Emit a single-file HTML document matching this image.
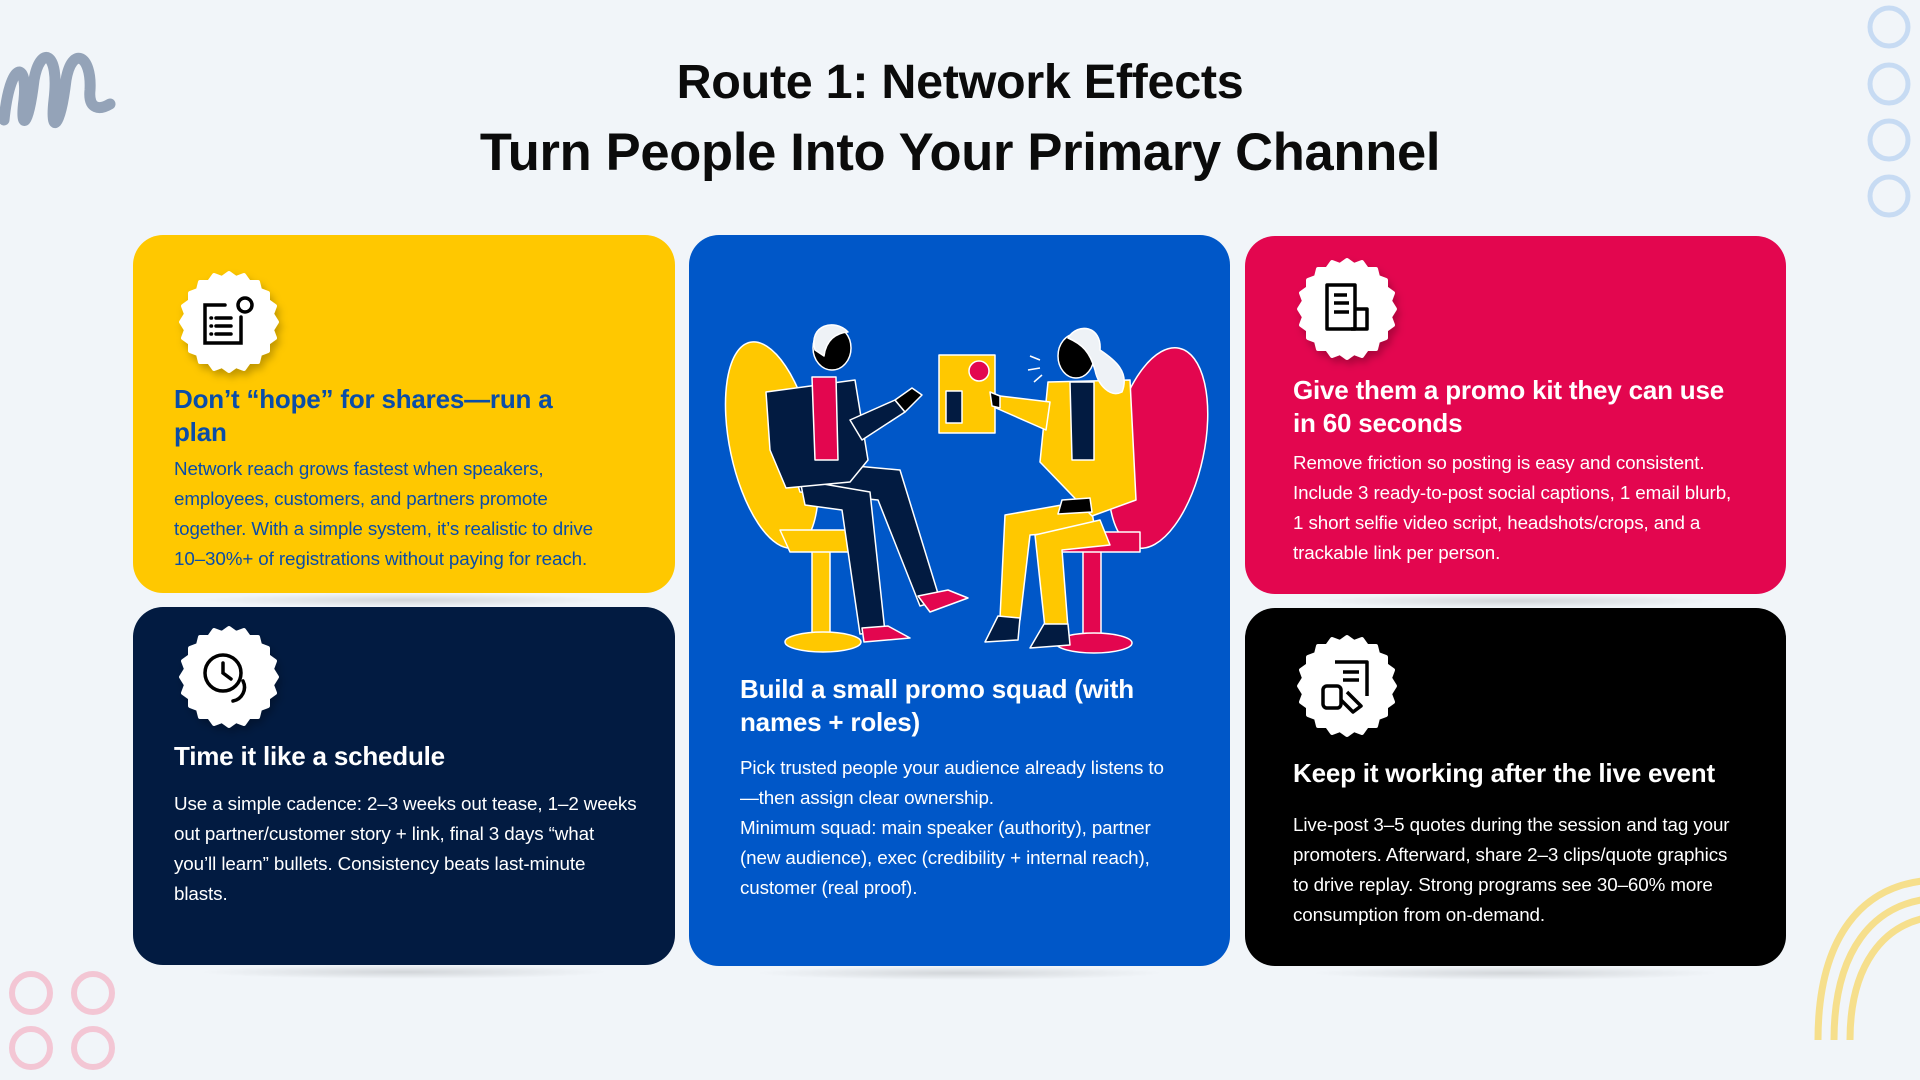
<!DOCTYPE html>
<html><head><meta charset="utf-8"><style>
*{margin:0;padding:0;box-sizing:border-box}
body{width:1920px;height:1080px;background:#f1f5f9;position:relative;overflow:hidden;font-family:"Liberation Sans",sans-serif}
.title{position:absolute;left:0;width:1920px;text-align:center;font-weight:700;color:#0b0b0b;letter-spacing:-0.3px;white-space:nowrap}
.card{position:absolute;border-radius:30px;overflow:visible}
.card::after{content:"";position:absolute;left:12%;right:12%;bottom:-14px;height:14px;border-radius:50%;background:radial-gradient(ellipse at center,rgba(0,0,0,0.13),rgba(0,0,0,0) 70%);z-index:-1}
.h{position:absolute;font-weight:700;font-size:26px;line-height:33px;letter-spacing:-0.2px;white-space:nowrap}
.b{position:absolute;font-size:18.8px;line-height:30px;letter-spacing:-0.1px;white-space:nowrap}
</style></head><body>

<svg width="1920" height="1080" style="position:absolute;left:0;top:0" viewBox="0 0 1920 1080">
  <path d="M4 120 C 10 60, 28 60, 24 100 C 20 130, 28 130, 34 80 C 40 45, 60 50, 54 100 C 50 135, 60 130, 66 80 C 72 45, 92 55, 90 90 C 88 110, 100 110, 110 104" fill="none" stroke="#94a3b8" stroke-width="11" stroke-linecap="round"/>
  <g fill="none" stroke="#c7dbf3" stroke-width="5">
    <circle cx="1889" cy="27" r="19"/><circle cx="1889" cy="84" r="19"/><circle cx="1889" cy="140" r="19"/><circle cx="1889" cy="196" r="19"/>
  </g>
  <g fill="none" stroke="#f3c6d4" stroke-width="6">
    <circle cx="31" cy="993" r="19"/><circle cx="93" cy="993" r="19"/><circle cx="31" cy="1048" r="19"/><circle cx="93" cy="1048" r="19"/>
  </g>
  <g fill="none" stroke="#f6df8c" stroke-width="7">
    <path d="M1818 1040 C 1818 940, 1860 880, 1940 880"/>
    <path d="M1834 1040 C 1834 955, 1870 900, 1940 898"/>
    <path d="M1850 1040 C 1850 970, 1880 920, 1940 916"/>
  </g>
</svg>

<div class="title" style="top:54px;font-size:48.5px">Route 1: Network Effects</div>
<div class="title" style="top:122px;font-size:52.5px">Turn People Into Your Primary Channel</div>

<div class="card" style="left:133px;top:235px;width:542px;height:358px;background:#ffc800"></div>
<div class="card" style="left:133px;top:607px;width:542px;height:358px;background:#021b41"></div>
<div class="card" style="left:689px;top:235px;width:541px;height:731px;background:#0057c8"></div>
<div class="card" style="left:1245px;top:236px;width:541px;height:358px;background:#e3064f"></div>
<div class="card" style="left:1245px;top:608px;width:541px;height:358px;background:#000"></div>

<svg width="1920" height="1080" style="position:absolute;left:0;top:0" viewBox="0 0 1920 1080">
  <defs>
    <filter id="sh" x="-30%" y="-30%" width="160%" height="160%"><feDropShadow dx="3" dy="5" stdDeviation="4" flood-opacity="0.25"/></filter>
    <g id="seal"><path d="M0-49 L7-44 L15-47 L20-40 L29-40 L31-32 L39-29 L39-21 L46-16 L43-8 L48 0 L43 8 L46 16 L39 21 L39 29 L31 32 L29 40 L20 40 L15 47 L7 44 L0 49 L-7 44 L-15 47 L-20 40 L-29 40 L-31 32 L-39 29 L-39 21 L-46 16 L-43 8 L-48 0 L-43-8 L-46-16 L-39-21 L-39-29 L-31-32 L-29-40 L-20-40 L-15-47 L-7-44Z" fill="#fff" stroke="#fff" stroke-width="4" stroke-linejoin="round"/></g>
  </defs>
  <g transform="translate(229,322)" filter="url(#sh)"><use href="#seal"/></g>
  <g transform="translate(229,322)" fill="none" stroke="#000" stroke-width="3.5" stroke-linecap="round">
    <path d="M-4-17 H-24 V21 H12 V-5"/><circle cx="16" cy="-17" r="7"/>
    <path d="M-13-4 H2 M-13 4 H2 M-13 12 H2"/><path d="M-18-4 h0.5 M-18 4 h0.5 M-18 12 h0.5"/>
  </g>
  <g transform="translate(229,677)" filter="url(#sh)"><use href="#seal"/></g>
  <g transform="translate(229,677)" fill="none" stroke="#000" stroke-width="3.5" stroke-linecap="round">
    <circle cx="-6" cy="-4" r="18"/><path d="M-6-14 V-4 L2 2"/><path d="M14 4 A14 14 0 0 1 4 24"/>
  </g>
  <g transform="translate(1347,309)" filter="url(#sh)"><use href="#seal"/></g>
  <g transform="translate(1347,309)" fill="none" stroke="#000" stroke-width="3.5" stroke-linejoin="round">
    <path d="M-20-24 H8 V20 H-20 Z"/><path d="M-13-14 H0 M-13-6 H2 M-13 3 H2"/><path d="M8 0 H20 V20 H4"/>
  </g>
  <g transform="translate(1347,686)" filter="url(#sh)"><use href="#seal"/></g>
  <g transform="translate(1347,686)" fill="none" stroke="#000" stroke-width="3.5" stroke-linejoin="round">
    <path d="M-12-24 H20 V10"/><path d="M-4-14 H12 M-4-6 H12"/><rect x="-24" y="0" width="18" height="22" rx="4"/><path d="M0 6 L14 20 L6 26 L-6 14"/>
  </g>

  <g stroke="#fff" stroke-width="1.5" stroke-linejoin="round">
    <ellipse cx="772" cy="445" rx="42" ry="105" transform="rotate(-12 772 445)" fill="#ffc800"/>
    <rect x="812" y="551" width="18" height="85" fill="#ffc800"/>
    <ellipse cx="823" cy="642" rx="38" ry="10" fill="#ffc800"/>
    <path d="M780 530 H870 V552 H790Z" fill="#ffc800"/>
    <ellipse cx="1158" cy="448" rx="46" ry="102" transform="rotate(12 1158 448)" fill="#e3064f"/>
    <rect x="1083" y="551" width="18" height="86" fill="#e3064f"/>
    <ellipse cx="1094" cy="643" rx="38" ry="10" fill="#e3064f"/>
    <path d="M1050 532 H1140 V552 H1060Z" fill="#e3064f"/>
    <path d="M790 460 L900 470 L940 600 L920 606 L878 500 L800 492Z" fill="#021b41"/>
    <path d="M800 480 L870 492 L885 632 L860 634 L842 510 L805 505Z" fill="#021b41"/>
    <path d="M918 596 L948 590 L968 598 L930 612Z" fill="#e3064f"/>
    <path d="M862 628 L888 626 L910 638 L864 642Z" fill="#e3064f"/>
    <path d="M766 392 L855 380 L868 460 L850 482 L786 488 L770 450Z" fill="#021b41"/>
    <path d="M812 377 L836 377 L838 460 L815 460Z" fill="#e3064f"/>
    <path d="M850 420 L895 400 L905 412 L862 440Z" fill="#021b41"/>
    <path d="M895 400 L912 388 L922 395 L905 412Z" fill="#000"/>
    <ellipse cx="832" cy="348" rx="19" ry="22" fill="#000"/>
    <path d="M815 350 C808 325, 835 318, 848 332 C836 333, 826 340, 824 356Z" fill="#eef2f6"/>
    <rect x="939" y="355" width="56" height="78" fill="#ffc800"/>
    <circle cx="979" cy="371" r="10" fill="#e3064f"/>
    <rect x="946" y="391" width="16" height="32" fill="#021b41"/>
    <path d="M1090 500 L1005 515 L1000 618 L1020 620 L1030 535 L1095 530Z" fill="#ffc800"/>
    <path d="M1100 520 L1035 535 L1045 628 L1068 628 L1062 550 L1110 545Z" fill="#ffc800"/>
    <path d="M998 616 L1020 618 L1018 640 L985 642Z" fill="#021b41"/>
    <path d="M1044 624 L1068 624 L1070 645 L1030 648Z" fill="#021b41"/>
    <path d="M1048 382 L1130 380 L1136 500 L1092 516 L1040 462Z" fill="#ffc800"/>
    <path d="M1070 382 L1094 382 L1094 460 L1072 460Z" fill="#021b41"/>
    <path d="M1050 402 L1000 396 L996 408 L1046 430Z" fill="#ffc800"/>
    <path d="M1000 396 L990 392 L992 406 L1000 408Z" fill="#000"/>
    <path d="M1090 498 L1062 500 L1058 514 L1092 512Z" fill="#000"/>
    <ellipse cx="1076" cy="356" rx="18" ry="22" fill="#000"/>
    <path d="M1068 338 C1078 322, 1102 326, 1100 350 C1115 360, 1130 372, 1122 392 C1110 398, 1098 385, 1095 370 C1090 352, 1082 344, 1068 338Z" fill="#eef2f6"/>
    <path d="M1040 360 l-10 -4 M1040 368 l-12 2 M1042 375 l-8 7" stroke="#fff" fill="none"/>
  </g>
</svg>

<div class="h" style="left:174px;top:383px;color:#0a4da8">Don’t “hope” for shares—run a<br>plan</div>
<div class="b" style="left:174px;top:454px;color:#0a4da8">Network reach grows fastest when speakers,<br>employees, customers, and partners promote<br>together. With a simple system, it’s realistic to drive<br>10–30%+ of registrations without paying for reach.</div>

<div class="h" style="left:174px;top:740px;color:#fff">Time it like a schedule</div>
<div class="b" style="left:174px;top:789px;color:#fff">Use a simple cadence: 2–3 weeks out tease, 1–2 weeks<br>out partner/customer story + link, final 3 days “what<br>you’ll learn” bullets. Consistency beats last-minute<br>blasts.</div>

<div class="h" style="left:740px;top:673px;color:#fff">Build a small promo squad (with<br>names + roles)</div>
<div class="b" style="left:740px;top:753px;color:#fff">Pick trusted people your audience already listens to<br>—then assign clear ownership.<br>Minimum squad: main speaker (authority), partner<br>(new audience), exec (credibility + internal reach),<br>customer (real proof).</div>

<div class="h" style="left:1293px;top:374px;color:#fff">Give them a promo kit they can use<br>in 60 seconds</div>
<div class="b" style="left:1293px;top:448px;color:#fff">Remove friction so posting is easy and consistent.<br>Include 3 ready-to-post social captions, 1 email blurb,<br>1 short selfie video script, headshots/crops, and a<br>trackable link per person.</div>

<div class="h" style="left:1293px;top:757px;color:#fff">Keep it working after the live event</div>
<div class="b" style="left:1293px;top:810px;color:#fff">Live-post 3–5 quotes during the session and tag your<br>promoters. Afterward, share 2–3 clips/quote graphics<br>to drive replay. Strong programs see 30–60% more<br>consumption from on-demand.</div>

</body></html>
